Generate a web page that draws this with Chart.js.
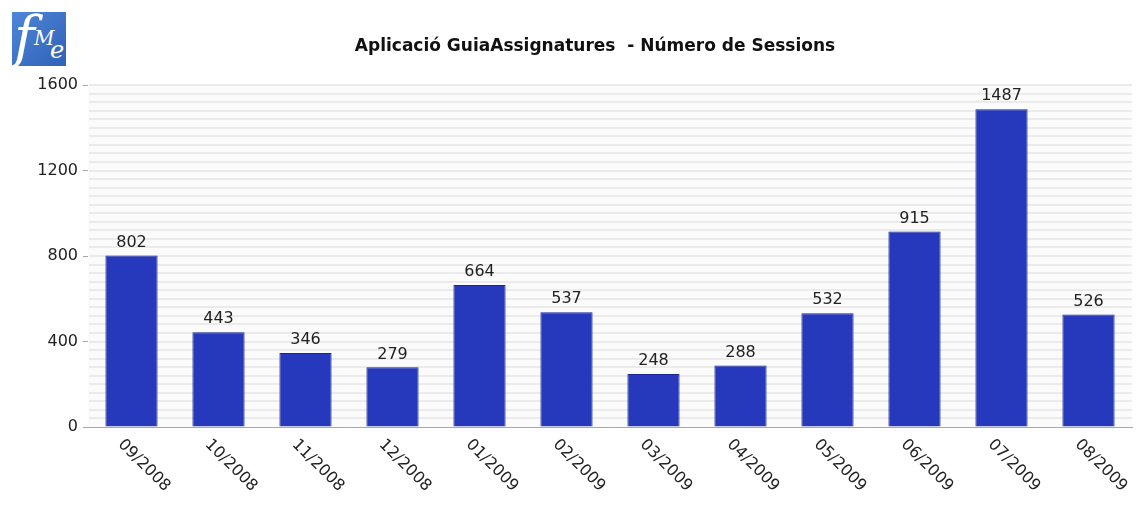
<!DOCTYPE html>
<html>
<head>
<meta charset="utf-8">
<script src="https://cdn.jsdelivr.net/npm/chart.js@4"></script>
<style>
  html, body { margin: 0; padding: 0; background: #fff; }
  #wrap { position: relative; width: 1144px; height: 516px; }
  #logo {
    position: absolute; left: 12px; top: 12px; width: 54px; height: 54px;
    background: linear-gradient(135deg, #4f86d6, #2e62b8);
    color: #fff; font-family: "DejaVu Serif", serif; font-style: italic;
    overflow: hidden;
  }
  #logo .f { position: absolute; left: 2px; top: -8px; font-size: 56px; }
  #logo .m { position: absolute; left: 22px; top: 14px; font-size: 20px; }
  #logo .e { position: absolute; left: 38px; top: 24px; font-size: 24px; }
</style>
</head>
<body>
<div id="wrap">
  <canvas id="sessions" width="1144" height="516"></canvas>
  <div id="logo"><span class="f">f</span><span class="m">M</span><span class="e">e</span></div>
</div>
<script>
const months = ['09/2008', '10/2008', '11/2008', '12/2008', '01/2009', '02/2009',
                '03/2009', '04/2009', '05/2009', '06/2009', '07/2009', '08/2009'];
const sessions = [802, 443, 346, 279, 664, 537, 248, 288, 532, 915, 1487, 526];
const yTicks = [0, 400, 800, 1200, 1600];
const chartTitle = 'Aplicació GuiaAssignatures  - Número de Sessions';

const FONT = '"DejaVu Sans", sans-serif';

// striped plot background, one thin line every 40 sessions
const stripes = {
  id: 'stripes',
  beforeDatasetsDraw(chart) {
    const { ctx, chartArea: a, scales: { y } } = chart;
    ctx.save();
    ctx.fillStyle = '#fbfbfb';
    ctx.fillRect(a.left, a.top, a.right - a.left, a.bottom - a.top);
    ctx.strokeStyle = '#ebebeb';
    ctx.lineWidth = 2;
    for (let v = 40; v <= 1600; v += 40) {
      const py = Math.round(y.getPixelForValue(v));
      ctx.beginPath();
      ctx.moveTo(a.left + 1, py);
      ctx.lineTo(a.right, py);
      ctx.stroke();
    }
    ctx.restore();
  }
};

// values above the bars, slanted month labels and the title
const annotations = {
  id: 'annotations',
  afterDraw(chart) {
    const { ctx, chartArea: a, scales: { x } } = chart;
    ctx.save();
    ctx.fillStyle = '#222';
    ctx.font = '16px ' + FONT;
    ctx.textAlign = 'center';
    ctx.textBaseline = 'bottom';
    chart.getDatasetMeta(0).data.forEach((bar, i) => {
      ctx.fillText(String(sessions[i]), bar.x, bar.y - 5);
    });

    ctx.textAlign = 'left';
    ctx.textBaseline = 'middle';
    months.forEach((m, i) => {
      const px = x.getPixelForValue(i);
      ctx.save();
      ctx.translate(px - 11, a.bottom + 15);
      ctx.rotate(Math.PI / 4);
      ctx.fillText(m, 0, 0);
      ctx.restore();
    });

    ctx.font = 'bold 17px ' + FONT;
    ctx.textAlign = 'center';
    ctx.fillStyle = '#111';
    ctx.fillText(chartTitle, 595, 47);
    ctx.restore();
  }
};

new Chart(document.getElementById('sessions').getContext('2d'), {
  type: 'bar',
  data: {
    labels: months,
    datasets: [{
      label: 'Sessions',
      data: sessions,
      backgroundColor: '#2638bc',
      borderColor: '#1a278f',
      borderWidth: 1,
      categoryPercentage: 1,
      barPercentage: 0.6
    }]
  },
  options: {
    responsive: false,
    animation: false,
    layout: { padding: { top: 85, bottom: 89, left: 0, right: 12 } },
    plugins: {
      legend: { display: false },
      title: { display: false },
      tooltip: { enabled: false }
    },
    scales: {
      x: {
        ticks: { display: false },
        grid: { display: false },
        border: { color: '#a8a8a8' },
        afterFit(s) { s.height = 0; }
      },
      y: {
        min: 0,
        max: 1600,
        afterBuildTicks(s) { s.ticks = yTicks.map(v => ({ value: v })); },
        ticks: {
          color: '#222',
          font: { family: FONT, size: 16 },
          padding: 5,
          callback: v => String(v)
        },
        grid: { drawOnChartArea: false, tickLength: 5, color: '#a8a8a8' },
        border: { color: '#a8a8a8' },
        afterFit(s) { s.width = 88; }
      }
    }
  },
  plugins: [stripes, annotations]
});
</script>
</body>
</html>
